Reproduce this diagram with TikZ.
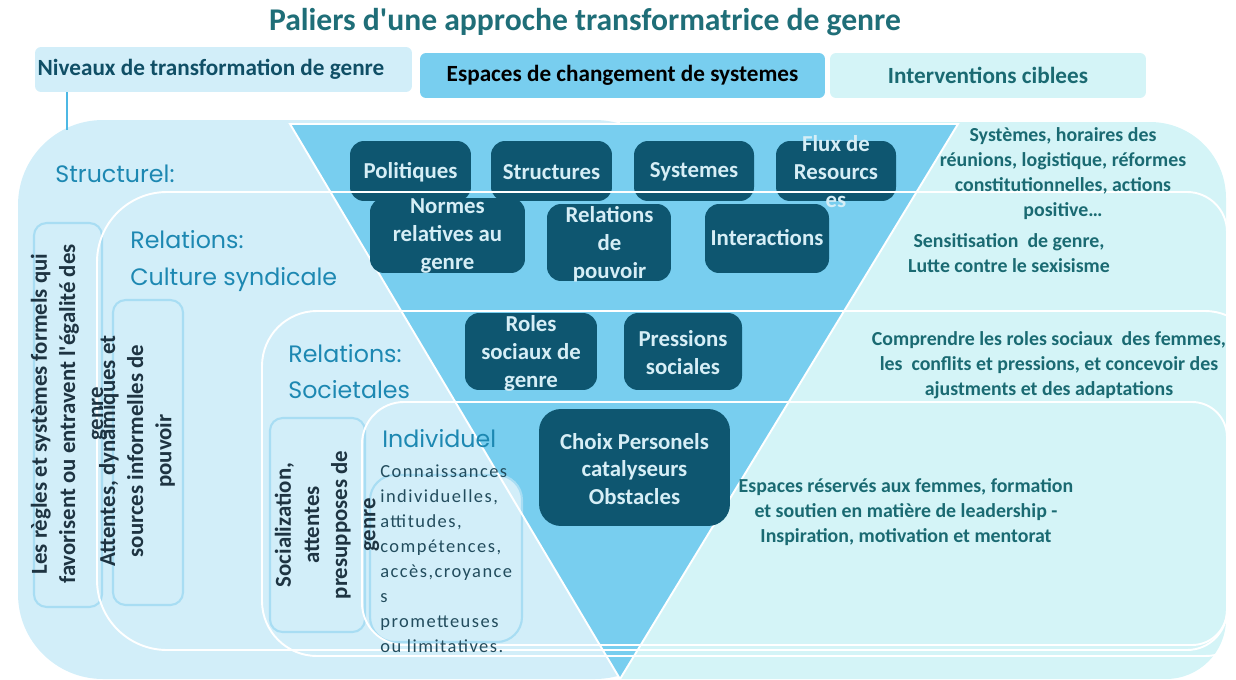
\documentclass[tikz,border=0pt]{standalone}
\usepackage{fontspec}
\setmainfont{Carlito}[Ligatures=TeXOff]
\newfontfamily\geofont{Poppins}

\definecolor{regionblue}{HTML}{D2EEF9}
\definecolor{regioncyan}{HTML}{D4F4F7}
\definecolor{funnel}{HTML}{78CEEF}
\definecolor{darkbox}{HTML}{0E5670}
\definecolor{paletext}{HTML}{D6EEF6}
\definecolor{levelblue}{HTML}{1D88B2}
\definecolor{tealtext}{HTML}{1A6A72}
\definecolor{titleteal}{HTML}{1F6E78}
\definecolor{slate}{HTML}{1E3442}
\definecolor{navytext}{HTML}{104F66}
\definecolor{boxedge}{HTML}{A8DDF3}
\definecolor{linkblue}{HTML}{4DB8E4}
\definecolor{softtext}{HTML}{224C5D}

\newcommand\fsz[2]{\fontsize{#1}{#2}\selectfont}
% rounded frame with separate left / right corner radii (all values in px units)
\newcommand\lrframe[7]{%
  \draw[#1] ({#2+#6},#3) -- ({#4-#7},#3)
    arc[start angle=90,end angle=0,radius={#7*0.02cm}] -- (#4,{#5-#7})
    arc[start angle=0,end angle=-90,radius={#7*0.02cm}] -- ({#2+#6},#5)
    arc[start angle=270,end angle=180,radius={#6*0.02cm}] -- (#2,{#3+#6})
    arc[start angle=180,end angle=90,radius={#6*0.02cm}] -- cycle;}

\tikzset{
  hdr/.style={rounded corners=0.12cm, minimum height=0.9cm, inner sep=0},
  hdrtext/.style={inner sep=0, font=\bfseries\fsz{13.2}{15}},
  dbox/.style={fill=darkbox, rounded corners=0.28cm, inner sep=0},
  dtext/.style={text=paletext, font=\bfseries\fsz{13}{15.9}, align=center, inner sep=0},
  vbox/.style={fill=regionblue, draw=boxedge, line width=1.2pt, rounded corners=0.25cm, inner sep=0},
  vtext/.style={text=slate, font=\bfseries\fsz{13}{16}, align=center, rotate=90, inner sep=0},
  level/.style={text=levelblue, font=\geofont\fsz{13.5}{16}, anchor=base west, inner sep=0},
  rtext/.style={text=tealtext, font=\bfseries\fsz{11.3}{14.2}, align=center, inner sep=0},
  ctext/.style={text=softtext, font=\fsz{10.5}{14.2}\addfontfeatures{LetterSpace=8}, align=left, inner sep=0},
  outline/.style={draw=white, line width=1.1pt},
}

\begin{document}
\begin{tikzpicture}[x=0.02cm,y=-0.02cm]
\useasboundingbox (0,0) rectangle (1236,679);

% title and column headers
\node[font=\bfseries\fsz{18}{21}, text=titleteal, anchor=base, inner sep=0] (title) at (585,31)
  {Paliers d'une approche transformatrice de genre};
\node[hdr, fill=regionblue, minimum width=7.54cm] (niv) at (223.5,69.5) {};
\node[hdrtext, text=navytext] (nivt) at (211,69.5) {Niveaux de transformation de genre};
\node[hdr, fill=funnel, minimum width=8.1cm] (esp) at (622.5,75.5) {};
\node[hdrtext, text=black] (espt) at (esp) {Espaces de changement de systemes};
\node[hdr, fill=regioncyan, minimum width=6.32cm] (int) at (988,75.5) {};
\node[hdrtext, text=tealtext] (intt) at (int) {Interventions ciblees};

% background regions: levels on the left, interventions on the right
\fill[regionblue, rounded corners=1.7cm] (18,120) rectangle (680,679);
\fill[regioncyan] (620,122) -- (1150,122) arc[start angle=90,end angle=0,radius=1.52cm]
  -- (1226,619) arc[start angle=0,end angle=-90,radius=1.2cm] -- (620,679) -- cycle;

\coordinate (lvltop) at (67,130);
\draw[linkblue, line width=1.2pt] (niv.south -| lvltop) -- (lvltop);

% funnel of system change spaces
\fill[funnel] (290,124) -- (958,124) -- (620,679) -- cycle;

% vertical boxes on the left
\node[vbox, minimum width=1.36cm, minimum height=7.68cm] (regles) at (68,415) {};
\node[vbox, minimum width=1.4cm, minimum height=6.1cm] (attentes) at (148,452.5) {};
\node[vbox, minimum width=1.9cm, minimum height=4.28cm] (social) at (317.5,525) {};
\node[vbox, minimum width=3.04cm, minimum height=3.34cm, rounded corners=0.5cm] (connais) at (446,558.5) {};

\draw[outline] (290,124) -- (958,124) -- (620,679) -- cycle;

% dark boxes inside the funnel
\node[dbox, minimum width=2.42cm, minimum height=1.2cm] (pol) at (410.5,171) {};
\node[dbox, minimum width=2.42cm, minimum height=1.2cm] (str) at (551.5,171) {};
\node[dbox, minimum width=2.4cm, minimum height=1.2cm] (sys) at (694,171) {};
\node[dbox, minimum width=2.4cm, minimum height=1.2cm] (flux) at (836,171) {};
\node[dbox, minimum width=3.1cm, minimum height=1.5cm] (norm) at (447.5,235.5) {};
\node[dbox, minimum width=2.48cm, minimum height=1.54cm] (rel) at (609,242.5) {};
\node[dbox, minimum width=2.48cm, minimum height=1.38cm] (inter) at (767,238.5) {};
\node[dbox, minimum width=2.64cm, minimum height=1.54cm] (roles) at (531,351.5) {};
\node[dbox, minimum width=2.36cm, minimum height=1.54cm] (press) at (683,351.5) {};
\node[dbox, minimum width=3.82cm, minimum height=2.34cm, rounded corners=0.44cm] (choix) at (634.5,467.5) {};

% nested level frames
\lrframe{outline}{97}{192}{1227}{650}{70}{40}
\lrframe{outline}{262}{311}{1260}{656}{55}{55}
\lrframe{outline}{362}{402}{1227}{645}{42}{35}

% dark box labels
\node[dtext] (polt) at (410.5,172) {Politiques};
\node[dtext] (strt) at (551.5,172) {Structures};
\node[dtext] (syst) at (694,172) {Systemes};
\node[dtext] (fluxt) at (836,172) {Flux de\\Resourcs\\es};
\node[dtext] (normt) at (447.5,236) {Normes\\relatives au\\genre};
\node[dtext] (relt) at (609.5,244) {Relations\\de\\pouvoir};
\node[dtext] (intert) at (767,238) {Interactions};
\node[dtext] (rolest) at (531,353) {Roles\\sociaux de\\genre};
\node[dtext] (presst) at (683,353) {Pressions\\sociales};
\node[dtext] (choixt) at (634.5,469) {Choix Personels\\catalyseurs\\Obstacles};

% level names
\node[level] (struct) at (55,182) {Structurel:};
\node[level] (relc) at (130,248) {Relations:};
\node[level] (cult) at (130,285) {Culture syndicale};
\node[level] (rels) at (288,362) {Relations:};
\node[level] (soc) at (288,398) {Societales};
\node[level] (indiv) at (382,447) {Individuel};

% rotated descriptions
\node[vtext] (reglest) at (69,414) {Les règles et systèmes formels qui\\favorisent ou entravent l'égalité des\\genre};
\node[vtext] (attentest) at (137,451) {Attentes, dynamiques et\\sources informelles de\\pouvoir};
\node[vtext] (socialt) at (327,525) {Socialization,\\attentes\\presupposes de\\genre};
\node[ctext, anchor=west] (connaist) at (380,559)
  {Connaissances\\individuelles,\\attitudes,\\compétences,\\accès,croyance\\s\\prometteuses\\ou limitatives.};

% targeted interventions
\node[rtext] (r1) at (1063,173.5) {Systèmes, horaires des\\réunions, logistique, réformes\\constitutionnelles, actions\\positive…};
\node[rtext] (r2) at (1009,253) {Sensitisation~ de genre,\\Lutte contre le sexisisme};
\node[rtext] (r3) at (1049,365) {Comprendre les roles sociaux~ des femmes,\\les~ conflits et pressions, et concevoir des\\ajustments et des adaptations};
\node[rtext] (r4) at (906,512) {Espaces réservés aux femmes, formation\\et soutien en matière de leadership -\\Inspiration, motivation et mentorat};
\end{tikzpicture}
\end{document}
